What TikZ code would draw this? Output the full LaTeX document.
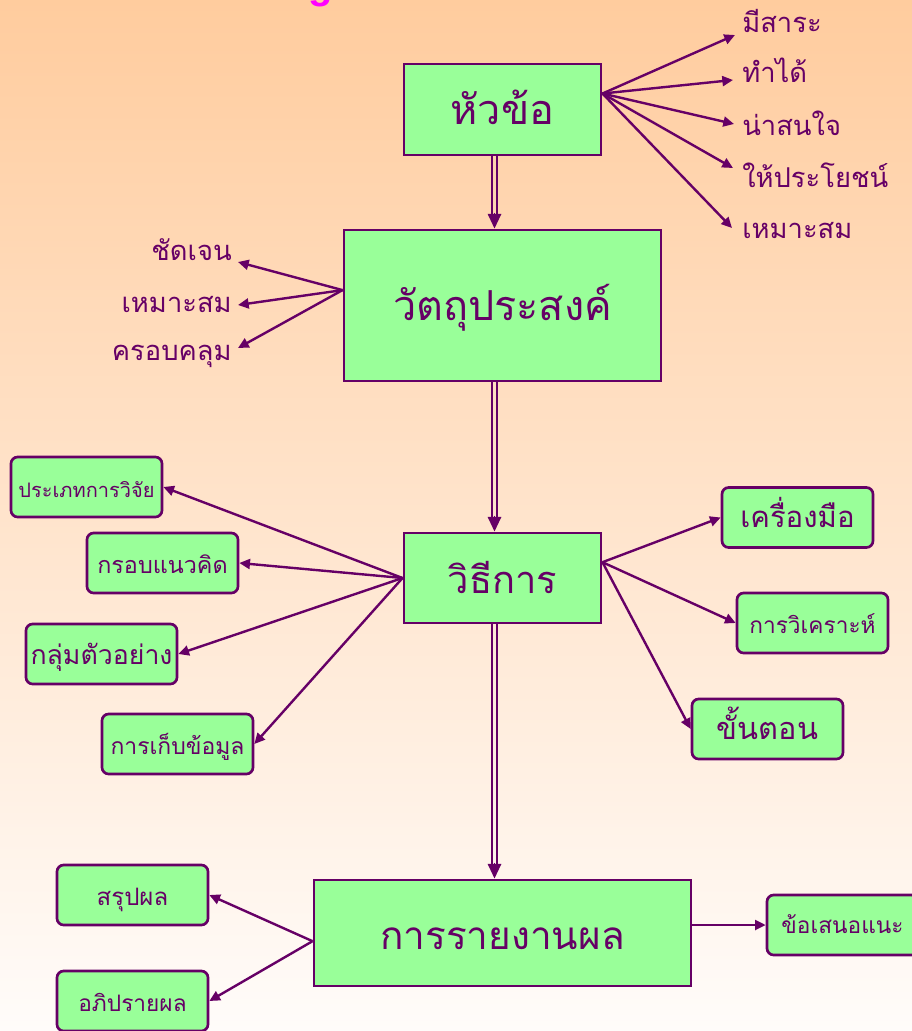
\documentclass[tikz,border=0pt]{standalone}
\usepackage{fontspec}
\usetikzlibrary{arrows.meta,calc}
\newfontfamily\thai[Script=Thai]{Loma}
\newfontfamily\titlefont{Liberation Sans}
\definecolor{purp}{HTML}{660066}
\definecolor{boxg}{HTML}{99FF99}
\definecolor{peach}{HTML}{FFCC9E}
\definecolor{paleend}{HTML}{FFFCFA}
\definecolor{mag}{HTML}{FF00FF}
\tikzset{
  fs/.style={font=\thai\fontsize{#1}{#1}\selectfont},
  mainbox/.style={draw=purp, line width=2.2pt, fill=boxg, text=purp, inner sep=0pt,
    text height=22.5pt, text depth=0pt},
  smallbox/.style={draw=purp, line width=2pt, fill=boxg, text=purp, inner sep=0pt,
    rounded corners=5pt, minimum width=113.25pt, minimum height=45pt,
    text height=15pt, text depth=0pt},
  lbl/.style={text=purp, inner sep=0pt, fs=20.5},
  conn/.style={draw=purp, line width=1.8pt, -{Triangle[length=8pt,width=7.5pt]}},
  dline/.style={draw=purp, line width=1.4pt},
  dtip/.style={draw=purp, line width=1.4pt, -{Triangle[length=11pt,width=10pt]}}
}
\begin{document}
\begin{tikzpicture}[x=0.75pt,y=-0.75pt]
\useasboundingbox (0,0) rectangle (912,1031);
\clip (0,0) rectangle (912,1031);
\shade[top color=peach, bottom color=paleend] (0,0) rectangle (912,1031);
% cut-off title fragment
\node[anchor=base, text=mag, inner sep=0pt, font=\titlefont\bfseries\fontsize{30}{30}\selectfont] (ttl) at (321,-1) {g};

% main boxes
\node[mainbox, minimum width=147.75pt, minimum height=68.25pt, fs=31] (topic) at (502.5,109.5) {หัวข้อ};
\node[mainbox, minimum width=237.75pt, minimum height=113.25pt, fs=31] (obj) at (502.5,305.5) {วัตถุประสงค์};
\node[mainbox, minimum width=147.75pt, minimum height=67.5pt, fs=28.5] (meth) at (502.5,578) {วิธีการ};
\node[mainbox, minimum width=282.75pt, minimum height=79.5pt, fs=29, text height=24pt] (rep) at (502.5,933) {การรายงานผล};

% double arrows
\foreach \a/\b in {topic/obj, obj/meth, meth/rep}{
  \draw[dline] ([xshift=-7.9pt]\a.south) -- ([xshift=-7.9pt,yshift=10pt]\b.north);
  \draw[dline] ([xshift=-4.1pt]\a.south) -- ([xshift=-4.1pt,yshift=10pt]\b.north);
  \draw[dtip] ([xshift=-6pt,yshift=12pt]\b.north) -- ([xshift=-6pt]\b.north);
}

% fan origins
\coordinate (o1) at ($(topic.north east)!0.33!(topic.south east)$);
\coordinate (o2) at ($(obj.north west)!0.40!(obj.south west)$);
\coordinate (o4) at ($(meth.north east)!0.33!(meth.south east)$);
\coordinate (o5) at ($(rep.north west)!0.575!(rep.south west)$);

% top-right labels
\node[lbl, anchor=base west] (l1) at (742,33) {มีสาระ};
\node[lbl, anchor=base west] (l2) at (742,83) {ทำได้};
\node[lbl, anchor=base west] (l3) at (742,135) {น่าสนใจ};
\node[lbl, anchor=base west] (l4) at (742,187) {ให้ประโยชน์};
\node[lbl, anchor=base west] (l5) at (742,238) {เหมาะสม};
\draw[conn] (o1) -- ([xshift=-5.25pt,yshift=-1.5pt]l1.base west);
\draw[conn] (o1) -- ([xshift=-6.75pt,yshift=2.25pt]l2.base west);
\draw[conn] (o1) -- ([xshift=-6pt,yshift=8.25pt]l3.base west);
\draw[conn] (o1) -- ([xshift=-6.75pt,yshift=14.25pt]l4.base west);
\draw[conn] (o1) -- ([xshift=-7.5pt,yshift=7.5pt]l5.base west);

% left labels of objective
\node[lbl, anchor=base east] (m1) at (232,260) {ชัดเจน};
\node[lbl, anchor=base east] (m2) at (232,312) {เหมาะสม};
\node[lbl, anchor=base east] (m3) at (232,360) {ครอบคลุม};
\draw[conn] (o2) -- ([xshift=4.5pt,yshift=-1.5pt]m1.base east);
\draw[conn] (o2) -- ([xshift=4.5pt,yshift=5.25pt]m2.base east);
\draw[conn] (o2) -- ([xshift=4.5pt,yshift=9pt]m3.base east);

% method boxes
\node[smallbox, fs=15] (p1) at (86.5,487) {ประเภทการวิจัย};
\node[smallbox, fs=17.5] (p2) at (162.5,563) {กรอบแนวคิด};
\node[smallbox, fs=20] (p3) at (101.5,654) {กลุ่มตัวอย่าง};
\node[smallbox, fs=17.2] (p4) at (177.5,744) {การเก็บข้อมูล};
\node[smallbox, fs=22] (r1) at (797.5,517.5) {เครื่องมือ};
\node[smallbox, fs=17] (r2) at (812.5,623) {การวิเคราะห์};
\node[smallbox, fs=23] (r3) at (767.5,729) {ขั้นตอน};
\draw[conn] (meth.west) -- (p1.east);
\draw[conn] (meth.west) -- (p2.east);
\draw[conn] (meth.west) -- (p3.east);
\draw[conn] (meth.west) -- (p4.east);
\draw[conn] (o4) -- (r1.west);
\draw[conn] (o4) -- (r2.west);
\draw[conn] (o4) -- (r3.west);

% report boxes
\node[smallbox, fs=18] (s1) at (132.5,895) {สรุปผล};
\node[smallbox, fs=17] (s2) at (132.5,1001) {อภิปรายผล};
\node[smallbox, fs=17, text height=12pt] (s3) at (842.5,925) {ข้อเสนอแนะ};
\draw[conn] (o5) -- (s1.east);
\draw[conn] (o5) -- (s2.east);
\draw[conn] (s3.west -| rep.east) -- (s3.west);
\end{tikzpicture}
\end{document}
